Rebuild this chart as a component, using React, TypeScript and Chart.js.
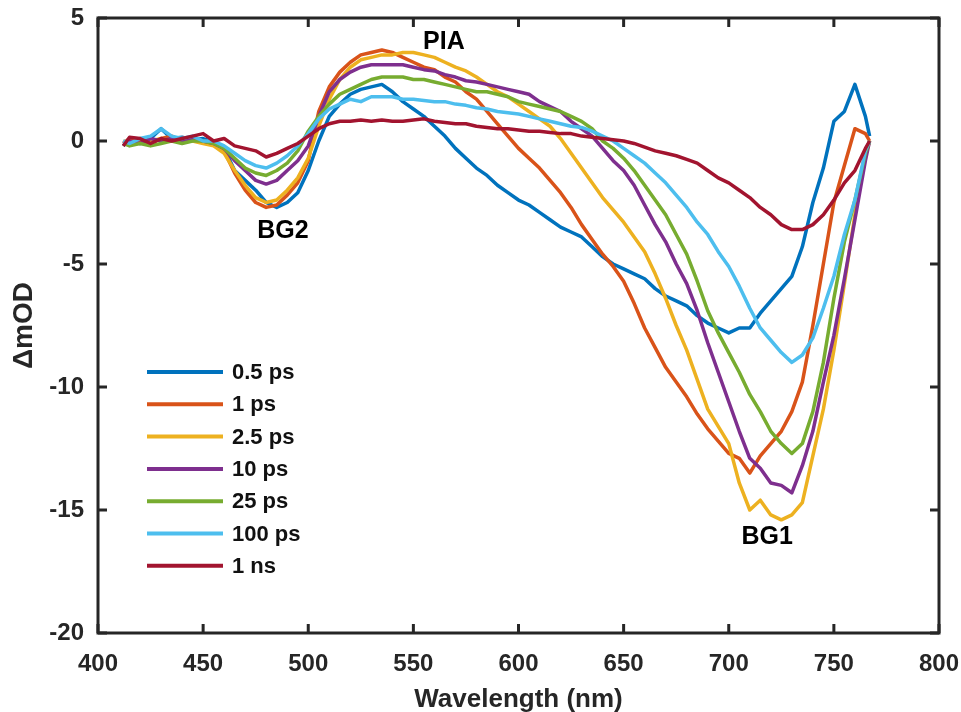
import { useEffect, useRef } from "react";
import { Chart, registerables } from "chart.js";

Chart.register(...registerables);

const wavelengths = [412, 415, 420, 425, 430, 435, 440, 445, 450, 455,
  460, 465, 470, 475, 480, 485, 490, 495, 500, 505,
  510, 515, 520, 525, 530, 535, 540, 545, 550, 555,
  560, 565, 570, 575, 580, 585, 590, 595, 600, 605,
  610, 615, 620, 625, 630, 635, 640, 645, 650, 655,
  660, 665, 670, 675, 680, 685, 690, 695, 700, 705,
  710, 715, 720, 725, 730, 735, 740, 745, 750, 755,
  760, 765, 767];

const ps05 = [-0.2, 0.1, -0.1, 0.1, 0.5, 0.1, 0.15, 0.05, 0.1, -0.05,
  -0.3, -1.2, -1.6, -2.0, -2.5, -2.7, -2.5, -2.1, -1.2, 0.0,
  1.0, 1.5, 1.9, 2.1, 2.2, 2.3, 2.0, 1.6, 1.3, 1.0,
  0.6, 0.2, -0.3, -0.7, -1.1, -1.4, -1.8, -2.1, -2.4, -2.6,
  -2.9, -3.2, -3.5, -3.7, -3.9, -4.3, -4.7, -5.0, -5.2, -5.4,
  -5.6, -6.0, -6.3, -6.5, -6.7, -7.1, -7.4, -7.6, -7.8, -7.6,
  -7.6, -7.0, -6.5, -6.0, -5.5, -4.3, -2.5, -1.1, 0.8, 1.2,
  2.3, 1.0, 0.2];

const ps1 = [-0.1, 0.1, 0.0, -0.1, 0.1, 0.2, 0.0, 0.1, 0.0, -0.1,
  -0.4, -1.3, -2.0, -2.5, -2.7, -2.6, -2.2, -1.7, -0.8, 1.2,
  2.2, 2.8, 3.2, 3.5, 3.6, 3.7, 3.6, 3.4, 3.2, 3.0,
  2.9, 2.6, 2.4, 2.0, 1.7, 1.2, 0.7, 0.2, -0.3, -0.7,
  -1.1, -1.6, -2.1, -2.7, -3.4, -4.0, -4.6, -5.1, -5.7, -6.6,
  -7.6, -8.4, -9.2, -9.8, -10.4, -11.1, -11.7, -12.2, -12.7, -12.9,
  -13.5, -12.8, -12.3, -11.8, -11.0, -9.8, -7.5, -5.0, -2.5, -1.0,
  0.5, 0.3, 0.0];

const ps25 = [0.0, -0.1, 0.1, 0.0, 0.1, 0.0, 0.1, 0.0, -0.1, -0.2,
  -0.5, -1.2, -1.8, -2.3, -2.5, -2.4, -2.0, -1.5, -0.7, 0.6,
  1.7, 2.5, 3.0, 3.3, 3.4, 3.5, 3.5, 3.6, 3.6, 3.5,
  3.4, 3.2, 3.0, 2.85, 2.6, 2.3, 2.0, 1.8, 1.5, 1.2,
  0.9, 0.6, 0.1, -0.5, -1.1, -1.7, -2.3, -2.8, -3.3, -3.9,
  -4.5, -5.4, -6.4, -7.5, -8.5, -9.7, -10.9, -11.6, -12.3, -13.9,
  -15.0, -14.6, -15.2, -15.4, -15.2, -14.7, -12.8, -10.9, -8.5, -5.8,
  -3.0, -0.6, 0.0];

const ps10 = [-0.1, 0.0, -0.1, 0.1, 0.0, 0.1, 0.0, 0.1, 0.0, -0.1,
  -0.3, -0.8, -1.2, -1.6, -1.75, -1.6, -1.2, -0.8, -0.2, 1.0,
  2.0, 2.5, 2.8, 3.0, 3.1, 3.1, 3.1, 3.1, 3.0, 2.9,
  2.85, 2.7, 2.6, 2.45, 2.4, 2.3, 2.2, 2.1, 2.0, 1.9,
  1.6, 1.4, 1.2, 0.8, 0.5, 0.2, -0.3, -0.8, -1.2, -1.8,
  -2.6, -3.4, -4.1, -5.0, -5.8, -6.9, -8.2, -9.4, -10.6, -11.8,
  -12.9, -13.3, -13.9, -14.0, -14.3, -13.2, -11.8, -9.8, -7.9, -5.6,
  -3.2, -0.8, 0.0];

const ps25b = [-0.1, -0.2, -0.1, -0.2, -0.1, 0.0, -0.1, 0.0, 0.0, -0.1,
  -0.3, -0.7, -1.1, -1.3, -1.4, -1.2, -0.9, -0.4, 0.4, 1.0,
  1.5, 1.9, 2.1, 2.3, 2.5, 2.6, 2.6, 2.6, 2.5, 2.5,
  2.4, 2.3, 2.2, 2.1, 2.0, 2.0, 1.9, 1.8, 1.6, 1.5,
  1.4, 1.3, 1.2, 1.0, 0.8, 0.5, 0.0, -0.3, -0.7, -1.2,
  -1.8, -2.4, -3.0, -3.8, -4.6, -5.7, -6.9, -7.8, -8.6, -9.4,
  -10.3, -11.0, -11.8, -12.3, -12.7, -12.3, -11.0, -9.0, -6.4, -4.1,
  -2.4, -0.5, 0.0];

const ps100 = [0.0, -0.1, 0.1, 0.2, 0.5, 0.2, 0.1, 0.2, 0.0, 0.0,
  -0.2, -0.5, -0.8, -1.0, -1.1, -0.9, -0.6, -0.2, 0.3, 0.9,
  1.3, 1.5, 1.7, 1.6, 1.8, 1.8, 1.8, 1.7, 1.7, 1.65,
  1.6, 1.6, 1.5, 1.45, 1.35, 1.3, 1.2, 1.15, 1.1, 1.0,
  0.9, 0.8, 0.7, 0.6, 0.55, 0.4, 0.2, 0.0, -0.3, -0.6,
  -0.9, -1.3, -1.7, -2.2, -2.7, -3.3, -3.8, -4.5, -5.1, -5.9,
  -6.8, -7.6, -8.1, -8.6, -9.0, -8.7, -8.0, -6.8, -5.5, -3.8,
  -2.4, -0.4, 0.0];

const ns1 = [-0.2, 0.15, 0.1, -0.1, 0.1, 0.0, 0.1, 0.2, 0.3, 0.0,
  0.1, -0.2, -0.3, -0.4, -0.65, -0.5, -0.3, -0.1, 0.2, 0.5,
  0.7, 0.8, 0.8, 0.85, 0.8, 0.85, 0.8, 0.8, 0.85, 0.9,
  0.8, 0.75, 0.7, 0.7, 0.6, 0.55, 0.5, 0.5, 0.45, 0.4,
  0.4, 0.35, 0.3, 0.3, 0.2, 0.15, 0.1, 0.05, 0.0, -0.1,
  -0.25, -0.4, -0.5, -0.6, -0.75, -0.9, -1.2, -1.5, -1.7, -2.0,
  -2.3, -2.7, -3.0, -3.4, -3.6, -3.6, -3.4, -3.0, -2.4, -1.7,
  -1.2, -0.3, 0.0];

const seriesLabels = ["0.5 ps", "1 ps", "2.5 ps", "10 ps", "25 ps", "100 ps", "1 ns"];
const seriesValues = [ps05, ps1, ps25, ps10, ps25b, ps100, ns1];
const seriesColors = ["#0072BD", "#D95319", "#EDB120", "#7E2F8E", "#77AC30", "#4DBEEE", "#A2142F"];

const xTickMin = 400;
const xTickMax = 800;
const xTickStep = 50;
const yTickMin = -20;
const yTickMax = 5;
const yTickStep = 5;

const xTitle = "Wavelength (nm)";
const yTitle = "\u0394mOD";

const annotationTexts = ["PIA", "BG2", "BG1"];
const annotationX = [564.5, 488, 718.3];
const annotationY = [4.0, -3.66, -16.1];

const FONT = "'Liberation Sans', Arial, Helvetica, sans-serif";
const AXIS_COLOR = "#262626";

const framePlugin = {
  id: "matlabFrame",
  afterDatasetsDraw(chart: any) {
    const { ctx, chartArea: a, scales } = chart;
    const xs = scales.x;
    const ys = scales.y;
    ctx.save();
    // box
    ctx.strokeStyle = AXIS_COLOR;
    ctx.lineWidth = 3;
    ctx.strokeRect(a.left, a.top, a.right - a.left, a.bottom - a.top);
    // inward ticks
    const tl = 9;
    ctx.beginPath();
    xs.ticks.forEach((t: any) => {
      const px = xs.getPixelForValue(t.value);
      ctx.moveTo(px, a.bottom);
      ctx.lineTo(px, a.bottom - tl);
      ctx.moveTo(px, a.top);
      ctx.lineTo(px, a.top + tl);
    });
    ys.ticks.forEach((t: any) => {
      const py = ys.getPixelForValue(t.value);
      ctx.moveTo(a.left, py);
      ctx.lineTo(a.left + tl, py);
      ctx.moveTo(a.right, py);
      ctx.lineTo(a.right - tl, py);
    });
    ctx.stroke();

    // annotations
    ctx.fillStyle = "#000";
    ctx.font = `bold 25px ${FONT}`;
    ctx.textAlign = "center";
    ctx.textBaseline = "middle";
    annotationTexts.forEach((txt, i) => {
      ctx.fillText(txt, xs.getPixelForValue(annotationX[i]), ys.getPixelForValue(annotationY[i]));
    });

    // legend
    const lx0 = 147;
    const lx1 = 223;
    const ly0 = 372;
    const lstep = 32.3;
    ctx.font = `bold 22px ${FONT}`;
    ctx.textAlign = "left";
    ctx.textBaseline = "middle";
    chart.data.datasets.forEach((ds: any, i: number) => {
      const yy = ly0 + i * lstep;
      ctx.strokeStyle = ds.borderColor;
      ctx.lineWidth = 4;
      ctx.beginPath();
      ctx.moveTo(lx0, yy);
      ctx.lineTo(lx1, yy);
      ctx.stroke();
      ctx.fillStyle = "#111";
      ctx.fillText(ds.label, 232, yy + 1);
    });

    // axis titles
    ctx.fillStyle = AXIS_COLOR;
    ctx.font = `bold 26px ${FONT}`;
    ctx.textAlign = "center";
    ctx.textBaseline = "alphabetic";
    ctx.fillText(xTitle, (a.left + a.right) / 2, 707);

    ctx.save();
    ctx.translate(24, (a.top + a.bottom) / 2);
    ctx.rotate(-Math.PI / 2);
    ctx.font = `bold 28px ${FONT}`;
    ctx.textBaseline = "middle";
    ctx.fillText(yTitle, 0, 0);
    ctx.restore();

    ctx.restore();
  },
};

export default function App() {
  const ref = useRef<HTMLCanvasElement | null>(null);

  useEffect(() => {
    if (!ref.current) return;
    const datasets = seriesLabels.map((label, i) => ({
      label,
      data: wavelengths.map((w, j) => ({ x: w, y: seriesValues[i][j] })),
      borderColor: seriesColors[i],
      backgroundColor: seriesColors[i],
      borderWidth: 3.5,
      pointRadius: 0,
      tension: 0,
      fill: false,
      order: seriesLabels.length - i,
      borderJoinStyle: "round" as const,
    }));

    const chart = new Chart(ref.current, {
      type: "line",
      data: { datasets },
      options: {
        animation: false,
        responsive: false,
        maintainAspectRatio: false,
        devicePixelRatio: 1,
        layout: { padding: { top: 18, right: 22, left: 0, bottom: 0 } },
        plugins: {
          legend: { display: false },
          tooltip: { enabled: false },
        },
        scales: {
          x: {
            type: "linear",
            min: xTickMin,
            max: xTickMax,
            grid: { display: false, drawTicks: false },
            border: { display: false },
            ticks: {
              stepSize: xTickStep,
              padding: 17,
              color: AXIS_COLOR,
              font: { family: FONT, size: 24, weight: "bold" },
              maxRotation: 0,
            },
            afterFit: (s: any) => {
              s.height = 79;
              s.paddingLeft = 0;
              s.paddingRight = 0;
            },
          },
          y: {
            type: "linear",
            min: yTickMin,
            max: yTickMax,
            grid: { display: false, drawTicks: false },
            border: { display: false },
            ticks: {
              stepSize: yTickStep,
              padding: 14,
              color: AXIS_COLOR,
              font: { family: FONT, size: 24, weight: "bold" },
            },
            afterFit: (s: any) => {
              s.width = 98;
              s.paddingTop = 0;
              s.paddingBottom = 0;
            },
          },
        },
      },
      plugins: [framePlugin],
    });
    return () => chart.destroy();
  }, []);

  return (
    <div style={{ position: "fixed", left: 0, top: 0, width: 961, height: 712, background: "#fff" }}>
      <canvas ref={ref} width={961} height={712} style={{ display: "block" }} />
    </div>
  );
}
